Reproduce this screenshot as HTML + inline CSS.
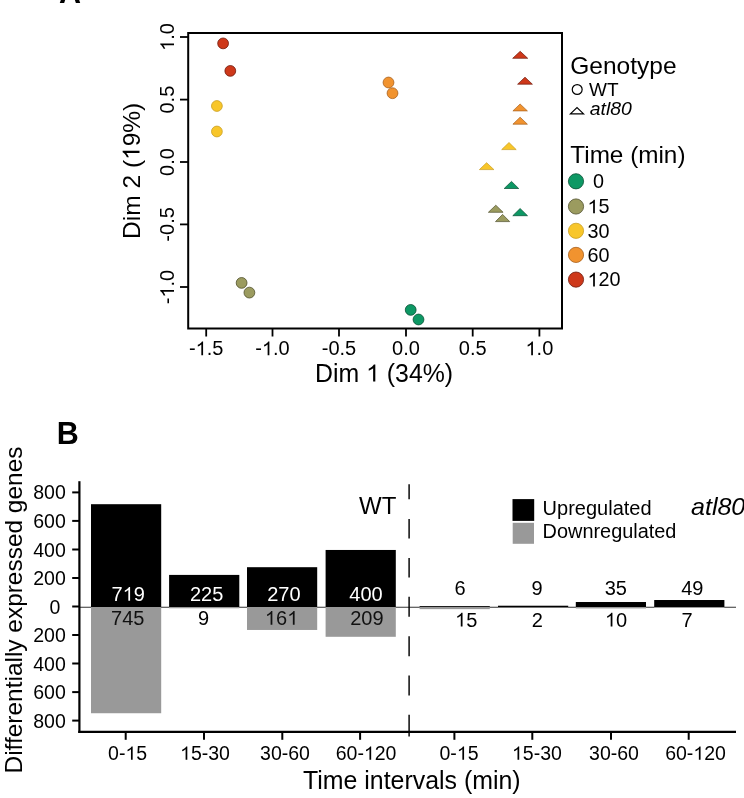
<!DOCTYPE html><html><head><meta charset="utf-8"><style>html,body{margin:0;padding:0;background:#fff;}svg{display:block;will-change:transform;}.o{fill-opacity:0;}text{font-family:"Liberation Sans", sans-serif;}</style></head><body>
<svg width="744" height="798" viewBox="0 0 744 798">
<rect x="0" y="0" width="744" height="798" fill="#fff"/>
<text x="59" y="2.6" font-size="30.5" font-weight="bold" fill="#000">A</text>
<rect x="188.2" y="33" width="373.8" height="295.5" fill="none" stroke="#000" stroke-width="2"/>
<line x1="180" y1="37" x2="188" y2="37" stroke="#000" stroke-width="1.8"/>
<text transform="translate(174,37) rotate(-90)" text-anchor="middle" font-size="20" fill="#000"><tspan class="o">1</tspan>.0</text>
<line x1="180" y1="99.6" x2="188" y2="99.6" stroke="#000" stroke-width="1.8"/>
<text transform="translate(174,99.6) rotate(-90)" text-anchor="middle" font-size="20" fill="#000">0.5</text>
<line x1="180" y1="162" x2="188" y2="162" stroke="#000" stroke-width="1.8"/>
<text transform="translate(174,162) rotate(-90)" text-anchor="middle" font-size="20" fill="#000">0.0</text>
<line x1="180" y1="224.4" x2="188" y2="224.4" stroke="#000" stroke-width="1.8"/>
<text transform="translate(174,224.4) rotate(-90)" text-anchor="middle" font-size="20" fill="#000">-0.5</text>
<line x1="180" y1="287" x2="188" y2="287" stroke="#000" stroke-width="1.8"/>
<text transform="translate(174,287) rotate(-90)" text-anchor="middle" font-size="20" fill="#000">-<tspan class="o">1</tspan>.0</text>
<line x1="206.2" y1="329" x2="206.2" y2="336.5" stroke="#000" stroke-width="1.8"/>
<text x="206.2" y="355.2" text-anchor="middle" font-size="20" fill="#000">-<tspan class="o">1</tspan>.5</text>
<line x1="272.5" y1="329" x2="272.5" y2="336.5" stroke="#000" stroke-width="1.8"/>
<text x="272.5" y="355.2" text-anchor="middle" font-size="20" fill="#000">-<tspan class="o">1</tspan>.0</text>
<line x1="339" y1="329" x2="339" y2="336.5" stroke="#000" stroke-width="1.8"/>
<text x="339" y="355.2" text-anchor="middle" font-size="20" fill="#000">-0.5</text>
<line x1="406" y1="329" x2="406" y2="336.5" stroke="#000" stroke-width="1.8"/>
<text x="406" y="355.2" text-anchor="middle" font-size="20" fill="#000">0.0</text>
<line x1="472.7" y1="329" x2="472.7" y2="336.5" stroke="#000" stroke-width="1.8"/>
<text x="472.7" y="355.2" text-anchor="middle" font-size="20" fill="#000">0.5</text>
<line x1="539.4" y1="329" x2="539.4" y2="336.5" stroke="#000" stroke-width="1.8"/>
<text x="539.4" y="355.2" text-anchor="middle" font-size="20" fill="#000"><tspan class="o">1</tspan>.0</text>
<text x="315" y="381.5" font-size="24.85" fill="#000">Dim <tspan class="o">1</tspan> (34%)</text>
<text transform="translate(139.5,170.8) rotate(-90)" text-anchor="middle" font-size="24.5" fill="#000">Dim 2 (<tspan class="o">1</tspan>9%)</text>
<circle cx="223.1" cy="43.4" r="5.4" fill="#CE381A" stroke="#6E1A0C" stroke-width="0.8"/>
<circle cx="230.3" cy="70.9" r="5.4" fill="#CE381A" stroke="#6E1A0C" stroke-width="0.8"/>
<circle cx="216.9" cy="106" r="5.4" fill="#F8C62A" stroke="#C99E22" stroke-width="0.8"/>
<circle cx="216.9" cy="131.5" r="5.4" fill="#F8C62A" stroke="#C99E22" stroke-width="0.8"/>
<circle cx="388.5" cy="82.5" r="5.4" fill="#F1932F" stroke="#A8601C" stroke-width="0.8"/>
<circle cx="392.5" cy="93.2" r="5.4" fill="#F1932F" stroke="#A8601C" stroke-width="0.8"/>
<circle cx="241.6" cy="282.9" r="5.4" fill="#9B9B5F" stroke="#4F4F2B" stroke-width="0.8"/>
<circle cx="249.4" cy="292.6" r="5.4" fill="#9B9B5F" stroke="#4F4F2B" stroke-width="0.8"/>
<circle cx="410.7" cy="309.9" r="5.4" fill="#0D9864" stroke="#064E32" stroke-width="0.8"/>
<circle cx="418.5" cy="319.5" r="5.4" fill="#0D9864" stroke="#064E32" stroke-width="0.8"/>
<polygon points="512.7,58.3 520.2,51.3 527.7,58.3" fill="#CE381A" stroke="#6E1A0C" stroke-width="0.7" stroke-linejoin="round"/>
<polygon points="517.6,84.2 525.0,77.2 532.4,84.2" fill="#CE381A" stroke="#6E1A0C" stroke-width="0.7" stroke-linejoin="round"/>
<polygon points="512.9,110.9 520.1,104.0 527.4,110.9" fill="#F1932F" stroke="#A8601C" stroke-width="0.7" stroke-linejoin="round"/>
<polygon points="512.9,124.2 520.1,117.2 527.4,124.2" fill="#F1932F" stroke="#A8601C" stroke-width="0.7" stroke-linejoin="round"/>
<polygon points="501.7,149.6 509.0,142.5 516.2,149.6" fill="#F8C62A" stroke="#C99E22" stroke-width="0.7" stroke-linejoin="round"/>
<polygon points="479.4,169.6 486.6,162.7 493.9,169.6" fill="#F8C62A" stroke="#C99E22" stroke-width="0.7" stroke-linejoin="round"/>
<polygon points="504.2,188.5 511.5,181.4 518.7,188.5" fill="#0D9864" stroke="#064E32" stroke-width="0.7" stroke-linejoin="round"/>
<polygon points="488.4,212.3 495.8,205.2 503.1,212.3" fill="#9B9B5F" stroke="#4F4F2B" stroke-width="0.7" stroke-linejoin="round"/>
<polygon points="495.5,221.6 502.6,214.4 509.7,221.6" fill="#9B9B5F" stroke="#4F4F2B" stroke-width="0.7" stroke-linejoin="round"/>
<polygon points="512.8,215.7 520.1,208.5 527.5,215.7" fill="#0D9864" stroke="#064E32" stroke-width="0.7" stroke-linejoin="round"/>
<text x="570.3" y="73.7" font-size="24.5" fill="#000">Genotype</text>
<circle cx="577.2" cy="89.5" r="4.95" fill="none" stroke="#000" stroke-width="1.2"/>
<text x="589" y="95.8" font-size="19" fill="#000">WT</text>
<polygon points="570.4,113.9 577,107.5 583.6,113.9" fill="none" stroke="#000" stroke-width="1.15"/>
<text transform="translate(589.8,115.2) scale(1.085,1)" font-size="17.9" font-style="italic" fill="#000">atl80</text>
<text x="570.3" y="162.7" font-size="24.3" fill="#000">Time (min)</text>
<circle cx="576" cy="181.3" r="7.6" fill="#0D9864" stroke="#064E32" stroke-width="0.8"/>
<text x="587.5" y="188.1" font-size="19.8" fill="#000" xml:space="preserve"> 0</text>
<circle cx="576" cy="206.5" r="7.6" fill="#9B9B5F" stroke="#4F4F2B" stroke-width="0.8"/>
<text x="587.5" y="213.3" font-size="19.8" fill="#000" xml:space="preserve"><tspan class="o">1</tspan>5</text>
<circle cx="576" cy="230.8" r="7.6" fill="#F8C62A" stroke="#C99E22" stroke-width="0.8"/>
<text x="587.5" y="237.6" font-size="19.8" fill="#000" xml:space="preserve">30</text>
<circle cx="576" cy="254.9" r="7.6" fill="#F1932F" stroke="#A8601C" stroke-width="0.8"/>
<text x="587.5" y="261.7" font-size="19.8" fill="#000" xml:space="preserve">60</text>
<circle cx="576" cy="279.6" r="7.6" fill="#CE381A" stroke="#6E1A0C" stroke-width="0.8"/>
<text x="587.5" y="286.4" font-size="19.8" fill="#000" xml:space="preserve"><tspan class="o">1</tspan>20</text>
<text x="56.7" y="444.2" font-size="30.5" font-weight="bold" fill="#000">B</text>
<line x1="79" y1="607.2" x2="736" y2="607.2" stroke="#333" stroke-width="1.1"/>
<rect x="91" y="504.20" width="70.2" height="102.80" fill="#000"/>
<rect x="91" y="607.0" width="70.2" height="106.24" fill="#999"/>
<rect x="169.1" y="574.91" width="70.2" height="32.09" fill="#000"/>
<rect x="169.1" y="607.0" width="70.2" height="1.28" fill="#999"/>
<rect x="247" y="567.20" width="70.2" height="39.80" fill="#000"/>
<rect x="247" y="607.0" width="70.2" height="22.96" fill="#999"/>
<rect x="325.6" y="549.96" width="70.2" height="57.04" fill="#000"/>
<rect x="325.6" y="607.0" width="70.2" height="29.80" fill="#999"/>
<rect x="419.6" y="606.14" width="70.2" height="0.86" fill="#000"/>
<rect x="419.6" y="607.0" width="70.2" height="2.14" fill="#999"/>
<rect x="498" y="605.72" width="70.2" height="1.28" fill="#000"/>
<rect x="498" y="607.0" width="70.2" height="0.29" fill="#999"/>
<rect x="575.8" y="602.01" width="70.2" height="4.99" fill="#000"/>
<rect x="575.8" y="607.0" width="70.2" height="1.43" fill="#999"/>
<rect x="654.2" y="600.01" width="70.2" height="6.99" fill="#000"/>
<rect x="654.2" y="607.0" width="70.2" height="1.00" fill="#999"/>
<line x1="409.1" y1="484.3" x2="409.1" y2="499.2" stroke="#000" stroke-width="1.45"/>
<line x1="409.1" y1="519" x2="409.1" y2="538.5" stroke="#000" stroke-width="1.45"/>
<line x1="409.1" y1="557.9" x2="409.1" y2="577.4" stroke="#000" stroke-width="1.45"/>
<line x1="409.1" y1="596.8" x2="409.1" y2="616.8" stroke="#000" stroke-width="1.45"/>
<line x1="409.1" y1="636.2" x2="409.1" y2="656.2" stroke="#000" stroke-width="1.45"/>
<line x1="409.1" y1="675.5" x2="409.1" y2="695.6" stroke="#000" stroke-width="1.45"/>
<line x1="409.1" y1="714.8" x2="409.1" y2="736.5" stroke="#000" stroke-width="1.45"/>
<line x1="79.4" y1="481.2" x2="79.4" y2="733" stroke="#000" stroke-width="2.2"/>
<line x1="78.3" y1="731.9" x2="736" y2="731.9" stroke="#000" stroke-width="2.4"/>
<line x1="72.2" y1="492.4" x2="79" y2="492.4" stroke="#000" stroke-width="2"/>
<text x="65.8" y="499.4" text-anchor="end" font-size="19.5" fill="#000">800</text>
<line x1="72.2" y1="520.9" x2="79" y2="520.9" stroke="#000" stroke-width="2"/>
<text x="65.8" y="527.9" text-anchor="end" font-size="19.5" fill="#000">600</text>
<line x1="72.2" y1="549.5" x2="79" y2="549.5" stroke="#000" stroke-width="2"/>
<text x="65.8" y="556.5" text-anchor="end" font-size="19.5" fill="#000">400</text>
<line x1="72.2" y1="578.0" x2="79" y2="578.0" stroke="#000" stroke-width="2"/>
<text x="65.8" y="585.0" text-anchor="end" font-size="19.5" fill="#000">200</text>
<line x1="72.2" y1="606.5" x2="79" y2="606.5" stroke="#000" stroke-width="2"/>
<text x="60.3" y="613.5" text-anchor="end" font-size="19.5" fill="#000">0</text>
<line x1="72.2" y1="635.0" x2="79" y2="635.0" stroke="#000" stroke-width="2"/>
<text x="65.8" y="642.0" text-anchor="end" font-size="19.5" fill="#000">200</text>
<line x1="72.2" y1="663.5" x2="79" y2="663.5" stroke="#000" stroke-width="2"/>
<text x="65.8" y="670.5" text-anchor="end" font-size="19.5" fill="#000">400</text>
<line x1="72.2" y1="692.1" x2="79" y2="692.1" stroke="#000" stroke-width="2"/>
<text x="65.8" y="699.1" text-anchor="end" font-size="19.5" fill="#000">600</text>
<line x1="72.2" y1="720.6" x2="79" y2="720.6" stroke="#000" stroke-width="2"/>
<text x="65.8" y="727.6" text-anchor="end" font-size="19.5" fill="#000">800</text>
<line x1="125.7" y1="733" x2="125.7" y2="739.8" stroke="#000" stroke-width="2"/>
<text x="127.6" y="759.8" text-anchor="middle" font-size="19.5" fill="#000">0-<tspan class="o">1</tspan>5</text>
<line x1="204" y1="733" x2="204" y2="739.8" stroke="#000" stroke-width="2"/>
<text x="205" y="759.8" text-anchor="middle" font-size="19.5" fill="#000"><tspan class="o">1</tspan>5-30</text>
<line x1="282.3" y1="733" x2="282.3" y2="739.8" stroke="#000" stroke-width="2"/>
<text x="285" y="759.8" text-anchor="middle" font-size="19.5" fill="#000">30-60</text>
<line x1="360.1" y1="733" x2="360.1" y2="739.8" stroke="#000" stroke-width="2"/>
<text x="366.1" y="759.8" text-anchor="middle" font-size="19.5" fill="#000">60-<tspan class="o">1</tspan>20</text>
<line x1="454.4" y1="733" x2="454.4" y2="739.8" stroke="#000" stroke-width="2"/>
<text x="459" y="759.8" text-anchor="middle" font-size="19.5" fill="#000">0-<tspan class="o">1</tspan>5</text>
<line x1="532.3" y1="733" x2="532.3" y2="739.8" stroke="#000" stroke-width="2"/>
<text x="536.9" y="759.8" text-anchor="middle" font-size="19.5" fill="#000"><tspan class="o">1</tspan>5-30</text>
<line x1="611" y1="733" x2="611" y2="739.8" stroke="#000" stroke-width="2"/>
<text x="614" y="759.8" text-anchor="middle" font-size="19.5" fill="#000">30-60</text>
<line x1="688.7" y1="733" x2="688.7" y2="739.8" stroke="#000" stroke-width="2"/>
<text x="695.5" y="759.8" text-anchor="middle" font-size="19.5" fill="#000">60-<tspan class="o">1</tspan>20</text>
<text x="303" y="789.2" font-size="24.9" fill="#000">Time intervals (min)</text>
<text transform="translate(22,610) rotate(-90)" text-anchor="middle" font-size="24.45" fill="#000">Differentially expressed genes</text>
<text x="128.2" y="600.8" text-anchor="middle" font-size="20" fill="#fff">7<tspan class="o">1</tspan>9</text>
<text x="206.6" y="600.8" text-anchor="middle" font-size="20" fill="#fff">225</text>
<text x="283.9" y="600.8" text-anchor="middle" font-size="20" fill="#fff">270</text>
<text x="366" y="600.8" text-anchor="middle" font-size="20" fill="#fff">400</text>
<text x="127.8" y="624.8" text-anchor="middle" font-size="20" fill="#111">745</text>
<text x="203.5" y="624.8" text-anchor="middle" font-size="20" fill="#000">9</text>
<text x="281.6" y="624.8" text-anchor="middle" font-size="20" fill="#111"><tspan class="o">1</tspan>6<tspan class="o">1</tspan></text>
<text x="366.9" y="624.8" text-anchor="middle" font-size="20" fill="#111">209</text>
<text x="460" y="595.2" text-anchor="middle" font-size="20" fill="#000">6</text>
<text x="537" y="595.2" text-anchor="middle" font-size="20" fill="#000">9</text>
<text x="615.8" y="595.2" text-anchor="middle" font-size="20" fill="#000">35</text>
<text x="692.3" y="595.2" text-anchor="middle" font-size="20" fill="#000">49</text>
<text x="466.2" y="626.5" text-anchor="middle" font-size="20" fill="#000"><tspan class="o">1</tspan>5</text>
<text x="537.2" y="626.5" text-anchor="middle" font-size="20" fill="#000">2</text>
<text x="616.1" y="626.5" text-anchor="middle" font-size="20" fill="#000"><tspan class="o">1</tspan>0</text>
<text x="687" y="626.5" text-anchor="middle" font-size="20" fill="#000">7</text>
<rect x="512.5" y="499.1" width="21.7" height="21.8" fill="#000"/>
<rect x="512.7" y="522.8" width="21.3" height="21" fill="#999"/>
<text x="542.6" y="514.6" font-size="20" fill="#000">Upregulated</text>
<text x="542.6" y="538" font-size="19.9" fill="#000">Downregulated</text>
<text transform="translate(691,514.6) scale(1.08,1)" font-size="23.2" font-style="italic" fill="#000">atl80</text>
<text x="359" y="514" font-size="24" fill="#000">WT</text>
<path d="M763 0L583 0L583 1100Q518 1040 412 980Q306 920 222 890L222 1057Q373 1125 486 1222Q599 1318 646 1409L763 1409Z" fill="#000" transform="translate(174,37) rotate(-90) translate(-13.91,0.00) scale(0.00977,-0.00977)"/>
<path d="M763 0L583 0L583 1100Q518 1040 412 980Q306 920 222 890L222 1057Q373 1125 486 1222Q599 1318 646 1409L763 1409Z" fill="#000" transform="translate(174,287) rotate(-90) translate(-10.57,0.00) scale(0.00977,-0.00977)"/>
<path d="M763 0L583 0L583 1100Q518 1040 412 980Q306 920 222 890L222 1057Q373 1125 486 1222Q599 1318 646 1409L763 1409Z" fill="#000" transform=" translate(195.63,355.20) scale(0.00977,-0.00977)"/>
<path d="M763 0L583 0L583 1100Q518 1040 412 980Q306 920 222 890L222 1057Q373 1125 486 1222Q599 1318 646 1409L763 1409Z" fill="#000" transform=" translate(261.93,355.20) scale(0.00977,-0.00977)"/>
<path d="M763 0L583 0L583 1100Q518 1040 412 980Q306 920 222 890L222 1057Q373 1125 486 1222Q599 1318 646 1409L763 1409Z" fill="#000" transform=" translate(525.49,355.20) scale(0.00977,-0.00977)"/>
<path d="M763 0L583 0L583 1100Q518 1040 412 980Q306 920 222 890L222 1057Q373 1125 486 1222Q599 1318 646 1409L763 1409Z" fill="#000" transform=" translate(366.06,381.50) scale(0.01213,-0.01213)"/>
<path d="M763 0L583 0L583 1100Q518 1040 412 980Q306 920 222 890L222 1057Q373 1125 486 1222Q599 1318 646 1409L763 1409Z" fill="#000" transform="translate(139.5,170.8) rotate(-90) translate(10.87,0.00) scale(0.01196,-0.01196)"/>
<path d="M763 0L583 0L583 1100Q518 1040 412 980Q306 920 222 890L222 1057Q373 1125 486 1222Q599 1318 646 1409L763 1409Z" fill="#000" transform=" translate(587.50,213.30) scale(0.00967,-0.00967)"/>
<path d="M763 0L583 0L583 1100Q518 1040 412 980Q306 920 222 890L222 1057Q373 1125 486 1222Q599 1318 646 1409L763 1409Z" fill="#000" transform=" translate(587.50,286.40) scale(0.00967,-0.00967)"/>
<path d="M763 0L583 0L583 1100Q518 1040 412 980Q306 920 222 890L222 1057Q373 1125 486 1222Q599 1318 646 1409L763 1409Z" fill="#000" transform=" translate(125.41,759.80) scale(0.00952,-0.00952)"/>
<path d="M763 0L583 0L583 1100Q518 1040 412 980Q306 920 222 890L222 1057Q373 1125 486 1222Q599 1318 646 1409L763 1409Z" fill="#000" transform=" translate(180.05,759.80) scale(0.00952,-0.00952)"/>
<path d="M763 0L583 0L583 1100Q518 1040 412 980Q306 920 222 890L222 1057Q373 1125 486 1222Q599 1318 646 1409L763 1409Z" fill="#000" transform=" translate(363.91,759.80) scale(0.00952,-0.00952)"/>
<path d="M763 0L583 0L583 1100Q518 1040 412 980Q306 920 222 890L222 1057Q373 1125 486 1222Q599 1318 646 1409L763 1409Z" fill="#000" transform=" translate(456.81,759.80) scale(0.00952,-0.00952)"/>
<path d="M763 0L583 0L583 1100Q518 1040 412 980Q306 920 222 890L222 1057Q373 1125 486 1222Q599 1318 646 1409L763 1409Z" fill="#000" transform=" translate(511.95,759.80) scale(0.00952,-0.00952)"/>
<path d="M763 0L583 0L583 1100Q518 1040 412 980Q306 920 222 890L222 1057Q373 1125 486 1222Q599 1318 646 1409L763 1409Z" fill="#000" transform=" translate(693.31,759.80) scale(0.00952,-0.00952)"/>
<path d="M763 0L583 0L583 1100Q518 1040 412 980Q306 920 222 890L222 1057Q373 1125 486 1222Q599 1318 646 1409L763 1409Z" fill="#fff" transform=" translate(122.64,600.80) scale(0.00977,-0.00977)"/>
<path d="M763 0L583 0L583 1100Q518 1040 412 980Q306 920 222 890L222 1057Q373 1125 486 1222Q599 1318 646 1409L763 1409Z" fill="#111" transform=" translate(264.91,624.80) scale(0.00977,-0.00977)"/>
<path d="M763 0L583 0L583 1100Q518 1040 412 980Q306 920 222 890L222 1057Q373 1125 486 1222Q599 1318 646 1409L763 1409Z" fill="#111" transform=" translate(287.16,624.80) scale(0.00977,-0.00977)"/>
<path d="M763 0L583 0L583 1100Q518 1040 412 980Q306 920 222 890L222 1057Q373 1125 486 1222Q599 1318 646 1409L763 1409Z" fill="#000" transform=" translate(455.08,626.50) scale(0.00977,-0.00977)"/>
<path d="M763 0L583 0L583 1100Q518 1040 412 980Q306 920 222 890L222 1057Q373 1125 486 1222Q599 1318 646 1409L763 1409Z" fill="#000" transform=" translate(604.97,626.50) scale(0.00977,-0.00977)"/>
</svg></body></html>
